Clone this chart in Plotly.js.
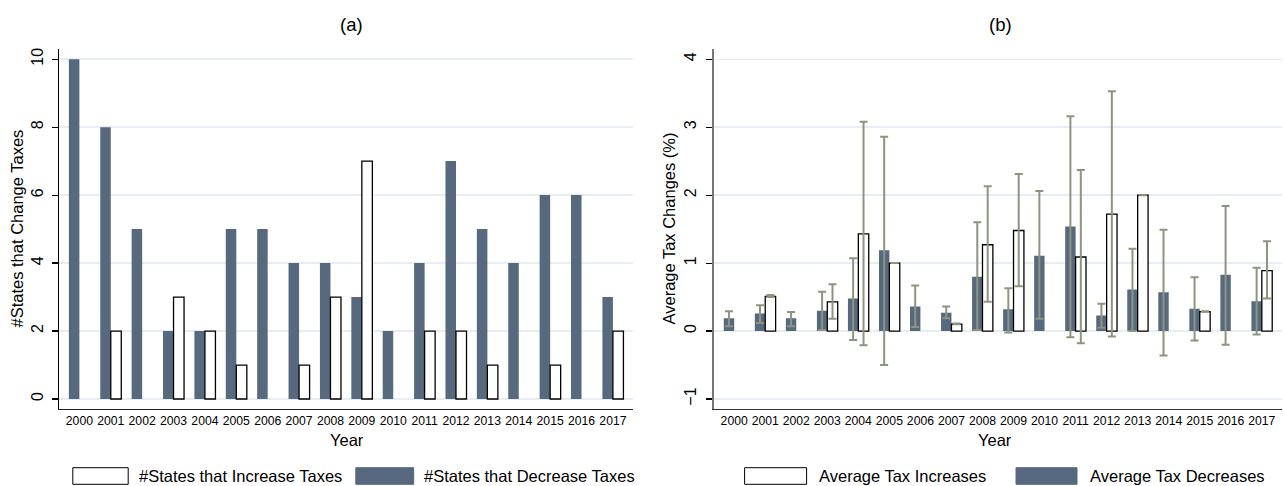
<!DOCTYPE html>
<html>
<head>
<meta charset="utf-8">
<script src="https://cdn.plot.ly/plotly-3.0.1.min.js"></script>
<style>html,body{margin:0;padding:0;background:#fff;}#chart{width:1284px;height:486px;}</style>
</head>
<body>
<div id="chart"></div>
<script>
// ---------- data ----------
const years = ["2000","2001","2002","2003","2004","2005","2006","2007","2008","2009","2010","2011","2012","2013","2014","2015","2016","2017"];

// panel (a): number of states
const statesIncrease = [null, 2, null, 3, 2, 1, null, 1, 3, 7, null, 2, 2, 1, null, 1, null, 2];
const statesDecrease = [10, 8, 5, 2, 2, 5, 5, 4, 4, 3, 2, 4, 7, 5, 4, 6, 6, 3];

// panel (b): average tax changes (%) with interval bounds
const avgIncrease      = [null, 0.51, null, 0.43, 1.43, 1.00, null, 0.10, 1.27, 1.48, null, 1.09, 1.72, 2.00, null, 0.285, null, 0.89];
const avgIncreaseLow   = [null, 0.50, null, 0.18, -0.21, 1.00, null, 0.10, 0.43, 0.66, null, -0.18, -0.08, 2.00, null, 0.285, null, 0.48];
const avgIncreaseHigh  = [null, 0.53, null, 0.69, 3.08, 1.00, null, 0.11, 2.13, 2.31, null, 2.37, 3.53, 2.00, null, 0.29, null, 1.32];

const avgDecrease      = [0.19, 0.26, 0.19, 0.30, 0.48, 1.19, 0.36, 0.27, 0.80, 0.32, 1.11, 1.54, 0.23, 0.61, 0.57, 0.33, 0.83, 0.44];
const avgDecreaseLow   = [0.07, 0.12, 0.07, 0.015, -0.13, -0.50, 0.06, 0.19, 0.015, -0.02, 0.18, -0.09, 0.05, 0.00, -0.36, -0.14, -0.20, -0.05];
const avgDecreaseHigh  = [0.29, 0.38, 0.28, 0.58, 1.07, 2.86, 0.67, 0.36, 1.60, 0.63, 2.06, 3.16, 0.40, 1.21, 1.49, 0.79, 1.84, 0.93];

const yTicksA = [0, 2, 4, 6, 8, 10];
const yTicksB = [-1, 0, 1, 2, 3, 4];

// ---------- styles ----------
const W = 1284, H = 486;
const px = x => x / W;
const py = y => 1 - y / H;
const DARK = '#56697f';
const ERR = '#8d947f';
const GRID = '#e7edf2';
const FONT = 'Liberation Sans, Arial, sans-serif';

const up = (v, hi) => v.map((d, i) => d == null ? null : hi[i] - d);
const dn = (v, lo) => v.map((d, i) => d == null ? null : d - lo[i]);

const traces = [
  {type:'bar', x: years, y: statesDecrease, xaxis:'x', yaxis:'y', name:'#States that Decrease Taxes',
   marker:{color: DARK, line:{width:0}}, showlegend:false},
  {type:'bar', x: years, y: statesIncrease, xaxis:'x', yaxis:'y', name:'#States that Increase Taxes',
   marker:{color:'#ffffff', line:{color:'#000', width:1.3}}, showlegend:false},
  {type:'bar', x: years, y: avgDecrease, xaxis:'x2', yaxis:'y2', name:'Average Tax Decreases',
   marker:{color: DARK, line:{width:0}}, showlegend:false,
   error_y:{type:'data', symmetric:false, array: up(avgDecrease, avgDecreaseHigh), arrayminus: dn(avgDecrease, avgDecreaseLow),
            color: ERR, thickness: 2, width: 4}},
  {type:'bar', x: years, y: avgIncrease, xaxis:'x2', yaxis:'y2', name:'Average Tax Increases',
   marker:{color:'#ffffff', line:{color:'#000', width:1.3}}, showlegend:false,
   error_y:{type:'data', symmetric:false, array: up(avgIncrease, avgIncreaseHigh), arrayminus: dn(avgIncrease, avgIncreaseLow),
            color: ERR, thickness: 2, width: 4}}
];

const yDom = [py(408.7), py(49.3)];

const xCommon = {type:'category', showgrid:false, zeroline:false, showline:true, ticks:'', tickangle:0,
  tickfont:{family: FONT, size:12.2, color:'#000'}, fixedrange:true, automargin:false};
const yCommon = {showgrid:true, gridcolor: GRID, gridwidth:1.5, zeroline:false, showline:true, ticks:'outside',
  ticklen:6, tickwidth:1.2, tickcolor:'#000', tickangle:-90, tickfont:{family: FONT, size:16, color:'#000'},
  automargin:false, ticklabelstandoff:3};

const layout = {
  width: W, height: H,
  margin:{l:0, r:0, t:0, b:0},
  paper_bgcolor:'#fff', plot_bgcolor:'#fff',
  barmode:'group', bargap:0.33, bargroupgap:0,
  showlegend:false,
  font:{family: FONT, color:'#000'},
  xaxis: Object.assign({}, xCommon, {domain:[px(59.3), px(633)], range:[-0.64, 17.64], anchor:'y',
    linecolor:'#222', linewidth:1.3}),
  yaxis: Object.assign({}, yCommon, {domain: yDom, range:[-0.285, 10.29], tickvals: yTicksA, anchor:'x',
    linecolor:'#000', linewidth:1.3}),
  xaxis2: Object.assign({}, xCommon, {domain:[px(713.7), px(1282)], range:[-0.66, 17.65], anchor:'y2',
    linecolor:'#333', linewidth:1.5}),
  yaxis2: Object.assign({}, yCommon, {domain: yDom, range:[-1.143, 4.147], tickvals: yTicksB, anchor:'x2',
    linecolor:'#777', linewidth:2}),
  shapes: [
    {type:'rect', xref:'paper', yref:'paper', x0:px(72.8), x1:px(128.2), y0:py(484.3), y1:py(467.7), fillcolor:'#fff', line:{color:'#000', width:1}},
    {type:'rect', xref:'paper', yref:'paper', x0:px(355.8), x1:px(413.7), y0:py(484.3), y1:py(467.7), fillcolor:DARK, line:{color:DARK, width:1}},
    {type:'rect', xref:'paper', yref:'paper', x0:px(744.6), x1:px(806.6), y0:py(484.3), y1:py(467.7), fillcolor:'#fff', line:{color:'#000', width:1}},
    {type:'rect', xref:'paper', yref:'paper', x0:px(1016), x1:px(1077), y0:py(484.3), y1:py(467.7), fillcolor:DARK, line:{color:DARK, width:1}}
  ],
  annotations: [
    {text:'(a)', xref:'paper', yref:'paper', x:px(352), y:py(24), showarrow:false, xanchor:'center', yanchor:'middle', font:{size:18.5}},
    {text:'(b)', xref:'paper', yref:'paper', x:px(1000), y:py(24), showarrow:false, xanchor:'center', yanchor:'middle', font:{size:18.5}},
    {text:'#States that Change Taxes', xref:'paper', yref:'paper', x:px(16.5), y:py(229), textangle:-90, showarrow:false, xanchor:'center', yanchor:'middle', font:{size:16.5}},
    {text:'Average Tax Changes (%)', xref:'paper', yref:'paper', x:px(669), y:py(228.5), textangle:-90, showarrow:false, xanchor:'center', yanchor:'middle', font:{size:16.5}},
    {text:'Year', xref:'paper', yref:'paper', x:px(347), y:py(440), showarrow:false, xanchor:'center', yanchor:'middle', font:{size:16.5}},
    {text:'Year', xref:'paper', yref:'paper', x:px(995), y:py(440), showarrow:false, xanchor:'center', yanchor:'middle', font:{size:16.5}},
    {text:'#States that Increase Taxes', xref:'paper', yref:'paper', x:px(136.5), y:py(476), showarrow:false, xanchor:'left', yanchor:'middle', font:{size:16.5}},
    {text:'#States that Decrease Taxes', xref:'paper', yref:'paper', x:px(422), y:py(476), showarrow:false, xanchor:'left', yanchor:'middle', font:{size:16.5}},
    {text:'Average Tax Increases', xref:'paper', yref:'paper', x:px(817), y:py(476), showarrow:false, xanchor:'left', yanchor:'middle', font:{size:16.5}},
    {text:'Average Tax Decreases', xref:'paper', yref:'paper', x:px(1088), y:py(476), showarrow:false, xanchor:'left', yanchor:'middle', font:{size:16.5}}
  ]
};

Plotly.newPlot('chart', traces, layout, {displayModeBar:false, staticPlot:true});
</script>
</body>
</html>
